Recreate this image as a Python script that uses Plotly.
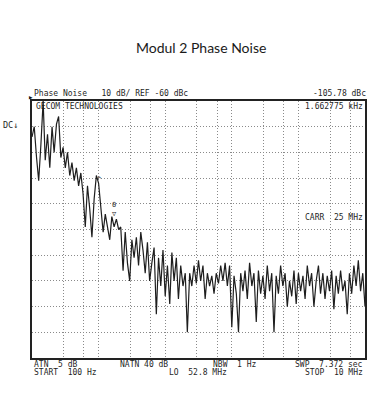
import plotly.graph_objects as go

# Sweep points (Hz)
FREQ_HZ = [
    100, 108, 117, 126, 136, 147, 158, 171, 185, 200, 215, 233, 251, 271, 293,
    316, 341, 369, 398, 430, 464, 501, 541, 584, 631, 681, 736, 794, 858, 926,
    1000, 1080, 1170, 1260, 1360, 1470, 1580, 1710, 1850, 2000, 2150, 2330, 2510, 2710, 2930,
    3160, 3410, 3690, 3980, 4300, 4640, 5010, 5410, 5840, 6310, 6810, 7360, 7940, 8580, 9260,
    10000, 10800, 11700, 12600, 13600, 14700, 15800, 17100, 18500, 20000, 21500, 23300, 25100, 27100, 29300,
    31600, 34100, 36900, 39800, 43000, 46400, 50100, 54100, 58400, 63100, 68100, 73600, 79400, 85800, 92600,
    100000, 108000, 117000, 126000, 136000, 147000, 158000, 171000, 185000, 200000, 215000, 233000, 251000, 271000, 293000,
    316000, 341000, 369000, 398000, 430000, 464000, 501000, 541000, 584000, 631000, 681000, 736000, 794000, 858000, 926000,
    1000000, 1080000, 1170000, 1260000, 1360000, 1470000, 1580000, 1710000, 1850000, 2000000, 2150000, 2330000, 2510000, 2710000, 2930000,
    3160000, 3410000, 3690000, 3980000, 4300000, 4640000, 5010000, 5410000, 5840000, 6310000, 6810000, 7360000, 7940000, 8580000, 9260000,
    10000000,
]

# Phase noise level (dBc)
LEVEL_DBC = [
    -74, -70, -82, -91, -77, -60, -83, -73, -86, -70, -80, -69, -66, -82, -78,
    -86, -80, -89, -84, -91, -86, -93, -88, -96, -109, -93, -102, -113, -98, -89,
    -92, -102, -111, -104, -109, -114, -105, -109, -106, -110, -109, -126, -111, -123, -130,
    -114, -121, -113, -124, -111, -118, -127, -115, -130, -123, -117, -143, -121, -132, -118,
    -136, -124, -139, -119, -130, -121, -137, -124, -132, -127, -150, -127, -132, -124, -131,
    -122, -130, -124, -137, -127, -132, -128, -135, -127, -131, -124, -130, -123, -132, -124,
    -148, -128, -135, -150, -127, -134, -126, -137, -123, -132, -127, -146, -126, -135, -128,
    -137, -124, -134, -127, -150, -128, -135, -124, -132, -127, -140, -130, -136, -126, -139,
    -127, -134, -128, -137, -124, -132, -127, -140, -130, -124, -135, -127, -137, -128, -134,
    -126, -141, -128, -135, -126, -134, -130, -143, -127, -135, -124, -132, -122, -134, -127,
    -140,
]

X_GRID = [300, 600, 1000, 3000, 6000, 10000, 30000, 60000, 100000, 300000, 600000,
          1000000, 3000000, 6000000]
Y_GRID = [-150, -140, -130, -120, -110, -100, -90, -80, -70]

W, H = 380, 400
L, R, T, B = 32, 15, 101, 42
PW, PH = W - L - R, H - T - B


def px(x):
    return (x - L) / PW


def py(y):
    return (H - B - y) / PH


fig = go.Figure()
fig.add_trace(go.Scatter(
    x=FREQ_HZ, y=LEVEL_DBC, mode="lines",
    line=dict(color="#1e1e1e", width=1.2), hoverinfo="skip", showlegend=False,
))

axis_common = dict(
    showticklabels=False, ticks="", zeroline=False,
    showgrid=True, gridcolor="#8a8a8a", gridwidth=1, griddash="1px,2px",
    showline=True, mirror=True, linecolor="#222222", linewidth=1.5,
)

fig.update_layout(
    width=W, height=H,
    margin=dict(l=L, r=R, t=T, b=B),
    paper_bgcolor="white", plot_bgcolor="white",
    xaxis=dict(type="log", range=[2, 7], tickvals=X_GRID, **axis_common),
    yaxis=dict(range=[-160, -60], tickvals=Y_GRID, **axis_common),
)

MONO = "DejaVu Sans Mono"
TXT = "#1f1f1f"


def note(x, y, text, anchor="left", size=8, font=MONO, color=TXT):
    fig.add_annotation(
        x=px(x), y=py(y), xref="paper", yref="paper", text=text,
        showarrow=False, xanchor=anchor, yanchor="middle",
        font=dict(family=font, size=size, color=color),
        borderpad=0,
    )


note(201, 47, "Modul 2 Phase Noise", anchor="center", size=14, font="Lato", color="#1a1a1a")
note(33, 93, "Phase Noise   10 dB/ REF -60 dBc")
note(367, 93, "-105.78 dBc", anchor="right")
note(35, 106, "GECOM TECHNOLOGIES")
note(364, 106, "1.662775 kHz", anchor="right")
note(2, 125, "DC↓", size=8.5)
note(27, 97, "▸", size=9, color="#111111")
note(364, 217, "CARR  25 MHz", anchor="right")
note(114, 209, "0<br>▽", anchor="center", size=7)
note(99, 179, "^", anchor="center", size=7.5)

note(33, 364.5, "ATN  5 dB")
note(119, 364.5, "NATN 40 dB")
note(212, 364.5, "NBW  1 Hz")
note(364, 364.5, "SWP  7.372 sec", anchor="right")
note(33, 372, "START  100 Hz")
note(168, 372, "LO  52.8 MHz")
note(364, 372, "STOP  10 MHz", anchor="right")

fig.write_html("out.html", post_script="document.body.style.margin='0';",
               config={"displayModeBar": False})
